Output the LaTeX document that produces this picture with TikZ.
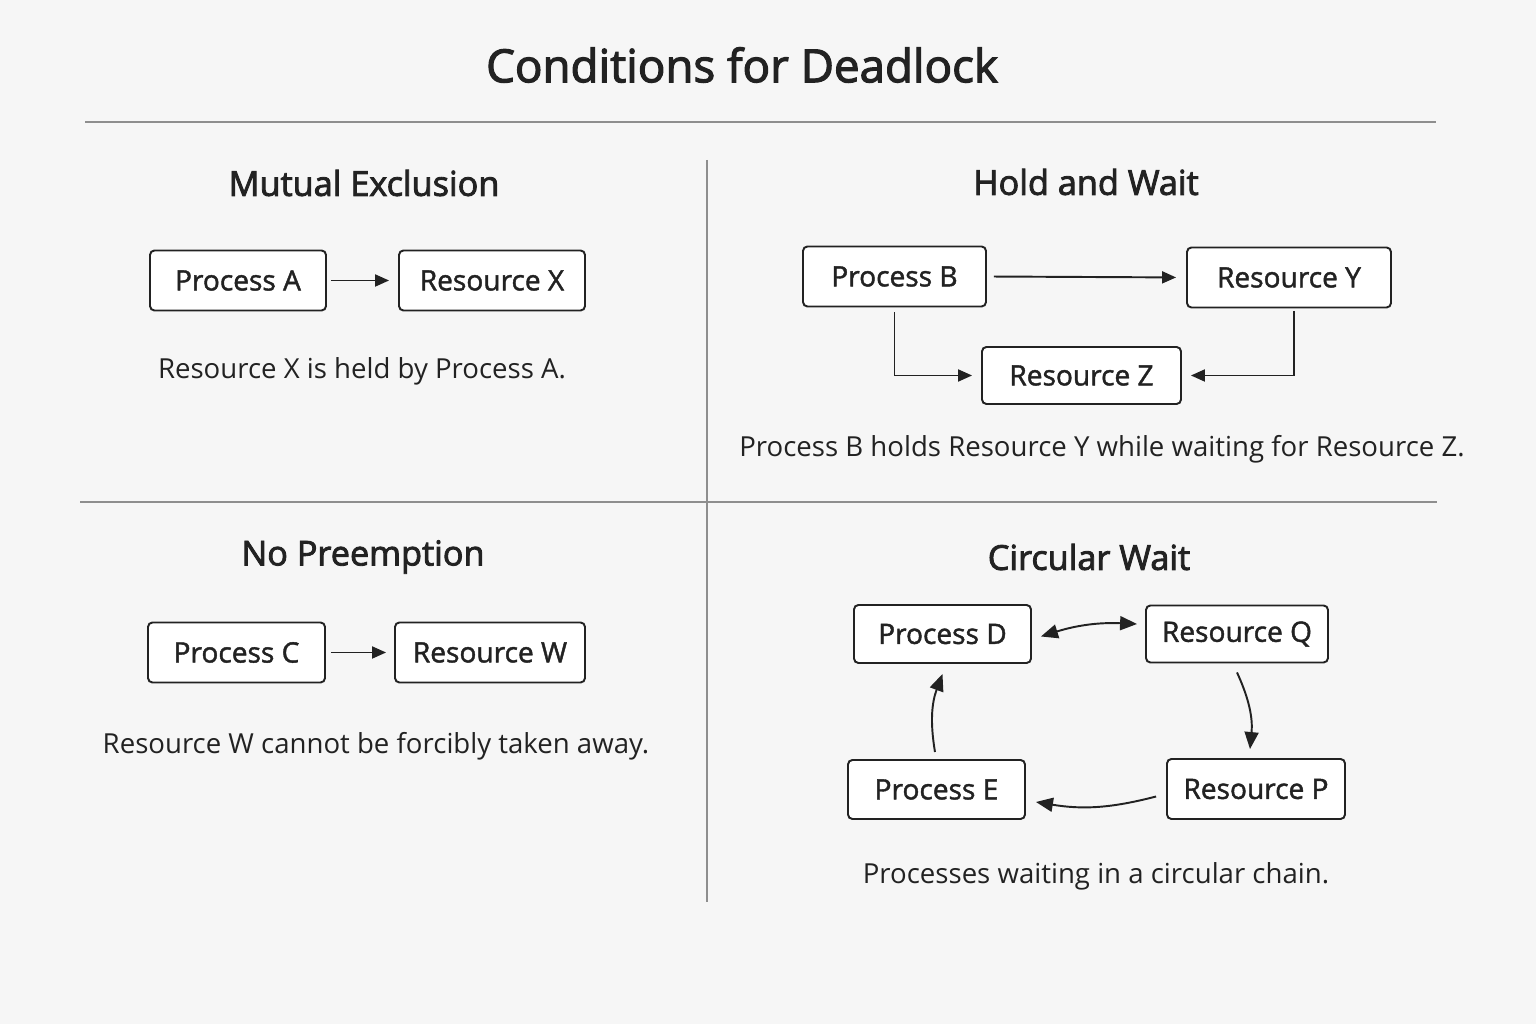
\documentclass[tikz,border=0pt]{standalone}
\usepackage{fontspec}
\setmainfont{Open Sans}
\newfontfamily\headfont{Open Sans}[FakeBold=2.5]
\newfontfamily\boxfont{Open Sans}[FakeBold=1.5]
\usetikzlibrary{positioning,arrows.meta}
\definecolor{bgcol}{HTML}{F6F6F6}
\definecolor{inkcol}{HTML}{222222}
\definecolor{rulecol}{HTML}{8E8E8E}
\begin{document}
\begin{tikzpicture}[
    x=0.02cm, y=0.02cm,
    every node/.style={
        text=inkcol,
        inner sep=2pt,
    },
    box/.style={
        draw=inkcol,
        fill=white,
        line width=1.1pt,
        rounded corners=2.5pt,
        minimum height=1.2cm,
        font=\boxfont\fontsize{16}{19}\selectfont,
    },
    heading/.style={font=\headfont\fontsize{19.5}{23}\selectfont},
    caption/.style={font=\fontsize{15.7}{19}\selectfont},
    conn/.style={draw=inkcol, line width=1.1pt, -{Triangle[length=0.28cm,width=0.24cm]}},
    bigtip/.style={-{Triangle[length=0.34cm,width=0.28cm]}},
    bothtips/.style={{Triangle[length=0.34cm,width=0.28cm]}-{Triangle[length=0.34cm,width=0.28cm]}},
    sep/.style={draw=rulecol, line width=0.6pt}
  ]
  \fill[bgcol] (0,0) rectangle (1536,1024);
  \useasboundingbox (0,0) rectangle (1536,1024);

  \node (title) at (742,959) {\headfont\fontsize{26}{31}\selectfont Conditions for Deadlock};
  \draw[sep] (85,902) -- (1436,902);
  \draw[sep] (80,522) -- (1437,522);
  \draw[sep] (707,864) -- (707,122);

  \node[heading] (mehead) at (364,841) {Mutual Exclusion};
  \node[box, minimum width=3.52cm] (pa) at (238,743.5) {Process A};
  \node[box, minimum width=3.72cm] (rx) at (492,743.5) {Resource X};
  \draw[conn, shorten <=0.08cm, shorten >=0.18cm] (pa.east) -- (rx.west);
  \node[caption] (mecap) at (362,653) {Resource X is held by Process A.};

  \node[heading] (hwhead) at (1086,842) {Hold and Wait};
  \node[box, minimum width=3.66cm] (pb) at (894.5,747.5) {Process B};
  \node[box, minimum width=4.08cm] (ry) at (1289,746.5) {Resource Y};
  \node[box, minimum width=3.98cm, minimum height=1.14cm] (rz) at (1081.5,648.5) {Resource Z};
  \draw[conn, shorten <=0.14cm, shorten >=0.2cm] (pb.east) -- (ry.west);
  \draw[conn] ([yshift=-0.1cm]pb.south) |- ([xshift=-0.18cm]rz.west);
  \draw[conn] ([xshift=0.1cm,yshift=-0.05cm]ry.south) |- ([xshift=0.18cm]rz.east);
  \node[caption] (hwcap) at (1102,575) {Process B holds Resource Y while waiting for Resource Z.};

  \node[heading] (nphead) at (363,467) {No Preemption};
  \node[box, minimum width=3.54cm] (pc) at (236.5,371.5) {Process C};
  \node[box, minimum width=3.8cm] (rw) at (490,371.5) {Resource W};
  \draw[conn, shorten <=0.1cm, shorten >=0.16cm] (pc.east) -- (rw.west);
  \node[caption] (npcap) at (376,278) {Resource W cannot be forcibly taken away.};

  \node[heading] (cwhead) at (1089,467) {Circular Wait};
  \node[box, minimum width=3.54cm, minimum height=1.16cm] (pd) at (942.5,390) {Process D};
  \node[box, minimum width=3.64cm, minimum height=1.14cm] (rq) at (1237,390) {Resource Q};
  \node[box, minimum width=3.56cm] (rp) at (1256,235) {Resource P};
  \node[box, minimum width=3.54cm, minimum height=1.18cm] (pe) at (936.5,234.5) {Process E};
  \draw[conn, bothtips]
    ([xshift=0.18cm,yshift=-0.05cm]pd.east) to[bend left=10] ([xshift=-0.16cm,yshift=0.2cm]rq.west);
  \draw[conn, bigtip] ([yshift=-0.18cm]rq.south) to[bend left=15] ([xshift=-0.12cm,yshift=0.18cm]rp.north);
  \draw[conn, bigtip] ([xshift=-0.2cm,yshift=-0.15cm]rp.west) to[bend left=12] ([xshift=0.2cm,yshift=-0.25cm]pe.east);
  \draw[conn, bigtip] ([xshift=-0.03cm,yshift=0.14cm]pe.north) to[bend left=15] ([yshift=-0.2cm]pd.south);
  \node[caption] (cwcap) at (1096,148) {Processes waiting in a circular chain.};
\end{tikzpicture}
\end{document}
